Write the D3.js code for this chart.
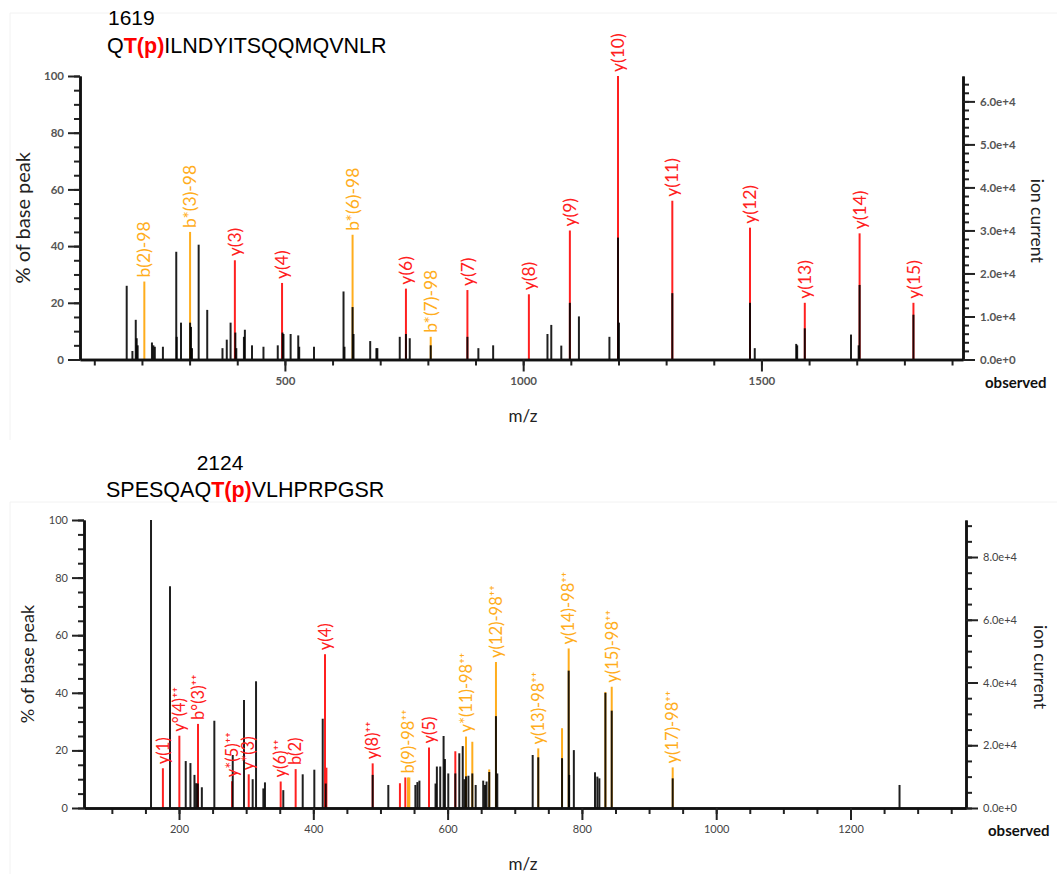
<!DOCTYPE html>
<html>
<head>
<meta charset="utf-8">
<script src="https://cdn.jsdelivr.net/npm/d3@7"></script>
<style>
  body { margin: 0; background: #fff; }
  svg { display: block; }
  .tick text { font-family: Lato, sans-serif; }
</style>
</head>
<body>
<div id="chart"></div>
<script>
// ---- spectrum 1619 : QT(p)ILNDYITSQQMQVNLR ----
const obsMz1  = [168,180,187,189,191,221,224,227,244,272,273,282,301,303,305,319,337,369,378,386,396,398,414,416,431,455,485,495,497,512,528,530,561,623,625,642,644,679,692,694,741,754,762,806,883,906,937,1051,1059,1080,1098,1117,1181,1199,1201,1313,1476,1486,1573,1575,1591,1688,1704,1706,1819];
const obsInt1 = [26,3,14,7.5,5,6,5,4.5,4.5,38,8,13,13,11.5,4,40.5,17.5,4,7,13,9.5,4,8,10.5,5,4.5,5,9.5,9,9,8.5,4.5,4.5,24,4.5,18.5,9,6.5,4,4,8,9,7.5,5,8,4,5,9,12.2,4.9,20,15.2,8,43,13,23.4,20,4,5.5,5,11,8.8,5,26.3,15.8];
const ionMz1    = [205,301,395,494,642,754,806,883,1012,1098,1199,1313,1476,1591,1706,1819];
const ionInt1   = [27.5,45,35,27,44,25,8,24.5,23,45.5,100,56,46.5,20,44.5,20];
const ionType1  = ["b","b","y","y","b","y","b","y","y","y","y","y","y","y","y","y"];
const ionLabel1 = ["b(2)-98","b*(3)-98","y(3)","y(4)","b*(6)-98","y(6)","b*(7)-98","y(7)","y(8)","y(9)","y(10)","y(11)","y(12)","y(13)","y(14)","y(15)"];

// ---- spectrum 2124 : SPESQAQT(p)VLHPRPGSR ----
const obsMz2  = [158.3,186.6,210,217,223,225.5,228,234,252.6,280,296.8,309.7,314.7,325.6,328,355.3,384.2,401.5,414,418.5,488.4,511.7,552,555,558,582,584,589,594,596,601,611.5,617.4,622.5,625,627.4,631,636.8,641.8,653,655.7,658,662,672,674,726.7,735,770.4,780.3,781,788,819.5,823,826,835,844.4,935.2,1273];
const obsInt2 = [100,77,16.3,15.6,11.5,8.6,8.5,7.2,30.3,18.4,37.5,10,44,6.8,8.9,6.2,11.7,13.3,31,8.5,11.5,8,8,9,9.5,8.5,14.4,14.4,25,17,12,12,19,21.5,10,11,11.2,12,8,9.5,8,9.2,12.5,31.9,12,18.4,17.6,17.3,47.7,11.5,20.1,12.4,10.9,10.3,40,33.8,10.3,8];
const ionMz2    = [176,200.5,228.3,279,303.8,351.4,373.7,417.4,419.5,488.4,529,537,572.3,611.5,541,543,627.4,636.8,662,672,735,770.4,780.3,835,844.4,935.2];
const ionInt2   = [13.8,25.1,29.2,9.3,11.7,9.2,13.5,53.4,14,15.5,8.6,10.6,21,19.7,10.6,10.6,24.8,23,13.4,50.7,20.7,27.7,55.4,40.3,42.1,14.1];
const ionType2  = ["y","y","b","y","y","y","b","y","y","y","y","y","y","y","n","n","n","n","n","n","n","n","n","n","n","n"];
const ionLabel2 = ["y(1)","y°(4)⁺⁺","b°(3)⁺⁺","y*(5)⁺⁺","y*(3)","y(6)⁺⁺","b(2)","y(4)","","y(8)⁺⁺","","","y(5)","","b(9)-98⁺⁺","","y*(11)-98⁺⁺","","","y(12)-98⁺⁺","y(13)-98⁺⁺","","y(14)-98⁺⁺","","y(15)-98⁺⁺","y(17)-98⁺⁺"];

const RED = "#ff2020", ORANGE = "#ffad1c";
const W = 1057, H = 874;

const svg = d3.select("#chart").append("svg")
  .attr("width", W).attr("height", H)
  .style("font-family", "Lato, sans-serif");

// faint frames around the two panels
svg.append("path").attr("d", "M10,440 L10,13 L1057,13").attr("fill", "none").attr("stroke", "#f2f2f2");
svg.append("path").attr("d", "M10,874 L10,502 L1057,502").attr("fill", "none").attr("stroke", "#f2f2f2");

function title(num, numX, numY, pre, mod, post, seqX, seqY, anchorNum) {
  svg.append("text").attr("x", numX).attr("y", numY).attr("text-anchor", anchorNum)
    .style("font-family", "'Liberation Sans', Arial, sans-serif").style("font-size", "21px").text(num);
  const t = svg.append("text").attr("x", seqX).attr("y", seqY)
    .style("font-family", "'Liberation Sans', Arial, sans-serif").style("font-size", "21.5px");
  t.append("tspan").text(pre);
  t.append("tspan").attr("fill", "#f00").style("font-weight", "bold").text(mod);
  t.append("tspan").text(post);
}

function panel(o) {
  const g = svg.append("g");
  const x = d3.scaleLinear().domain(o.xDomain).range([o.left, o.right]);
  const y = d3.scaleLinear().domain([0, 100]).range([o.bottom, o.top]);
  const yR = d3.scaleLinear().domain([0, o.ionMax]).range([o.bottom, o.top]);
  const colorOf = t => t === "n" || t === "b" && o.bOrange ? ORANGE : RED;

  // matched ion sticks
  g.selectAll(".ion").data(o.ionMz).join("line")
    .attr("x1", d => x(d)).attr("x2", d => x(d))
    .attr("y1", y(0)).attr("y2", (d, i) => y(o.ionInt[i]))
    .attr("stroke", (d, i) => colorOf(o.ionType[i])).attr("stroke-width", 2);

  // observed peaks
  g.selectAll(".obs").data(o.obsMz).join("line")
    .attr("x1", d => x(d)).attr("x2", d => x(d))
    .attr("y1", y(0)).attr("y2", (d, i) => y(o.obsInt[i]))
    .attr("stroke", "#000").attr("stroke-opacity", 0.88).attr("stroke-width", 2);

  // ion labels
  g.selectAll(".lab").data(o.ionMz).join("text")
    .attr("transform", (d, i) => `translate(${x(d)},${y(o.ionInt[i]) - 4}) rotate(-90)`)
    .attr("dy", "0.35em")
    .attr("fill", (d, i) => colorOf(o.ionType[i]))
    .style("font-size", o.labelSize + "px")
    .text((d, i) => o.ionLabel[i]);

  // axes
  const axStyle = a => {
    a.select(".domain").attr("stroke", "#111").attr("stroke-width", 2.5);
    a.selectAll(".tick line").attr("stroke", "#222").attr("stroke-width", 2);
    a.selectAll(".tick text").attr("fill", o.tickColor)
      .style("font-size", o.tickSize + "px").style("font-weight", o.tickWeight);
  };
  g.append("g").attr("transform", `translate(0,${o.bottom})`)
    .call(d3.axisBottom(x).tickValues(d3.range(o.xMinor[0], o.xDomain[1], o.xMinor[1])).tickSize(6).tickFormat("").tickSizeOuter(0)).call(axStyle);
  g.append("g").attr("transform", `translate(0,${o.bottom})`)
    .call(d3.axisBottom(x).tickValues(d3.range(o.xMajor[0], o.xDomain[1], o.xMajor[1])).tickSize(12).tickPadding(5)
      .tickFormat(d3.format("d")).tickSizeOuter(0)).call(axStyle);

  g.append("g").attr("transform", `translate(${o.left},0)`)
    .call(d3.axisLeft(y).tickValues(d3.range(0, 101, 5)).tickSize(6).tickFormat("").tickSizeOuter(0)).call(axStyle);
  g.append("g").attr("transform", `translate(${o.left},0)`)
    .call(d3.axisLeft(y).tickValues(d3.range(0, 101, 20)).tickSize(12).tickPadding(4).tickSizeOuter(0)).call(axStyle);

  g.append("g").attr("transform", `translate(${o.right},0)`)
    .call(d3.axisRight(yR).tickValues(d3.range(0, o.ionMax, o.rMinor)).tickSize(6).tickFormat("").tickSizeOuter(0)).call(axStyle);
  g.append("g").attr("transform", `translate(${o.right},0)`)
    .call(d3.axisRight(yR).tickValues(d3.range(0, o.ionMax, o.rMajor)).tickSize(12).tickPadding(5)
      .tickFormat(d3.format(".1e")).tickSizeOuter(0)).call(axStyle);

  // axis titles
  g.append("text").attr("transform", `translate(${o.left - 50},${(o.top + o.bottom) / 2}) rotate(-90)`)
    .attr("text-anchor", "middle").attr("fill", "#222").style("font-size", o.titleSize + "px").text("% of base peak");
  g.append("text").attr("transform", `translate(${o.right + 68},${(o.top + o.bottom) / 2 + 3}) rotate(90)`)
    .attr("text-anchor", "middle").attr("fill", "#222").style("font-size", "17.5px").text("ion current");
  g.append("text").attr("x", o.right + 22).attr("y", o.bottom + 28)
    .attr("fill", "#111").style("font-size", "15px").style("font-weight", "bold").text("observed");
  g.append("text").attr("x", 523).attr("y", o.bottom + 62).attr("text-anchor", "middle")
    .attr("fill", "#222").style("font-size", "17px").text("m/z");
}

title("1619", 108, 25, "Q", "T(p)", "ILNDYITSQQMQVNLR", 107, 53, "start");
panel({
  left: 80, right: 963, top: 76, bottom: 359.5,
  xDomain: [70, 1923], xMinor: [100, 100], xMajor: [500, 500],
  ionMax: 65900, rMinor: 2000, rMajor: 10000,
  obsMz: obsMz1, obsInt: obsInt1,
  ionMz: ionMz1, ionInt: ionInt1, ionType: ionType1, ionLabel: ionLabel1,
  bOrange: true, labelSize: 17.5,
  tickColor: "#555", tickSize: 11.5, tickWeight: "bold", titleSize: 20
});

title("2124", 220, 470, "SPESQAQ", "T(p)", "VLHPRPGSR", 106, 497, "middle");
panel({
  left: 84, right: 966, top: 520, bottom: 808,
  xDomain: [58.5, 1372], xMinor: [100, 50], xMajor: [200, 200],
  ionMax: 91800, rMinor: 5000, rMajor: 20000,
  obsMz: obsMz2, obsInt: obsInt2,
  ionMz: ionMz2, ionInt: ionInt2, ionType: ionType2, ionLabel: ionLabel2,
  bOrange: false, labelSize: 16.5,
  tickColor: "#444", tickSize: 11, tickWeight: "normal", titleSize: 18
});
</script>
</body>
</html>
